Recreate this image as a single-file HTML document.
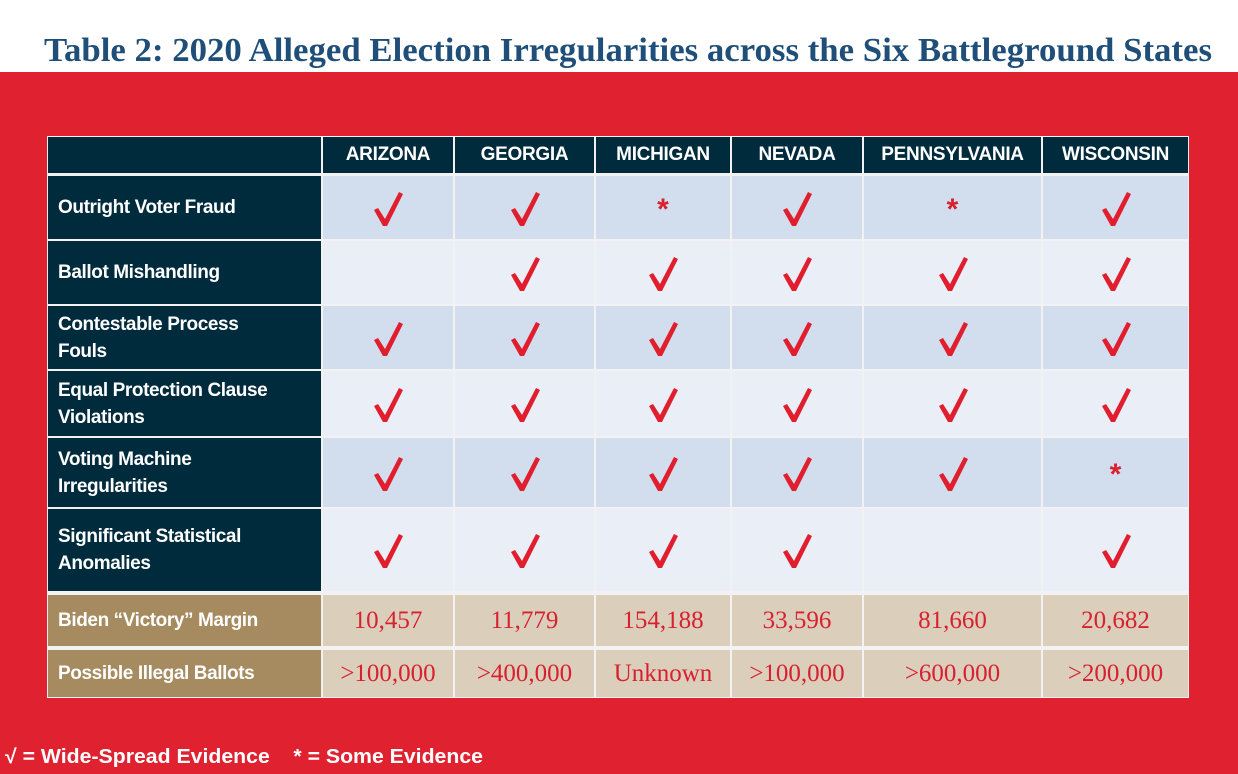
<!DOCTYPE html>
<html><head><meta charset="utf-8"><style>
*{margin:0;padding:0;box-sizing:border-box}
body{width:1238px;height:774px;background:#fff;position:relative;overflow:hidden;font-family:"Liberation Sans",sans-serif}
#red{position:absolute;left:0;top:72px;width:1238px;height:702px;background:#e02130}
#tbl{position:absolute;left:47px;top:136px;width:1142px;height:562px;background:#f2f2f2}
.c{position:absolute;display:flex;align-items:center}
.h{background:#002b3d;color:#fff;font-weight:bold;font-size:19px;justify-content:center;letter-spacing:-0.3px}
.l{background:#002b3d;color:#fff;font-weight:bold;font-size:19px;line-height:27px;padding-left:10px;letter-spacing:-0.4px}
.t{background:#a58b5f;color:#fff;font-weight:bold;font-size:19px;padding-left:10px;letter-spacing:-0.4px}
.n{background:#dbcfbc;color:#d8202f;font-family:"Liberation Serif",serif;font-size:25px;justify-content:center}
.a{background:#d2deed}.b{background:#e9eef7}
svg.k{position:absolute;width:30px;height:34px}
.s{position:absolute;color:#d8202f;font-weight:bold;font-size:30px;line-height:30px;width:30px;text-align:center}
</style></head><body>
<svg style="position:absolute;left:0;top:0" width="1238" height="72"><text x="44" y="61" textLength="1168" lengthAdjust="spacingAndGlyphs" font-family="Liberation Serif" font-weight="bold" font-size="34" fill="#1f4e79">Table 2: 2020 Alleged Election Irregularities across the Six Battleground States</text></svg>
<div id="red"></div>
<div id="tbl"></div>
<div class="c h" style="left:48px;top:137px;width:273px;height:36px"></div>
<div class="c h" style="left:323px;top:137px;width:130px;height:36px">ARIZONA</div>
<div class="c h" style="left:455px;top:137px;width:139px;height:36px">GEORGIA</div>
<div class="c h" style="left:596px;top:137px;width:134px;height:36px">MICHIGAN</div>
<div class="c h" style="left:732px;top:137px;width:130px;height:36px">NEVADA</div>
<div class="c h" style="left:864px;top:137px;width:177px;height:36px">PENNSYLVANIA</div>
<div class="c h" style="left:1043px;top:137px;width:145px;height:36px">WISCONSIN</div>
<div class="c l" style="left:48px;top:176px;width:273px;height:63px">Outright Voter Fraud</div>
<div class="c l" style="left:48px;top:241px;width:273px;height:63px">Ballot Mishandling</div>
<div class="c l" style="left:48px;top:306px;width:273px;height:63px">Contestable Process<br>Fouls</div>
<div class="c l" style="left:48px;top:371px;width:273px;height:65px">Equal Protection Clause<br>Violations</div>
<div class="c l" style="left:48px;top:438px;width:273px;height:69px">Voting Machine<br>Irregularities</div>
<div class="c l" style="left:48px;top:509px;width:273px;height:82px">Significant Statistical<br>Anomalies</div>
<div id="cells"></div>
<div class="c t" style="left:48px;top:595px;width:273px;height:51px">Biden “Victory” Margin</div>
<div class="c t" style="left:48px;top:650px;width:273px;height:47px">Possible Illegal Ballots</div>
<div class="c n" style="left:323px;top:595px;width:130px;height:51px">10,457</div>
<div class="c n" style="left:455px;top:595px;width:139px;height:51px">11,779</div>
<div class="c n" style="left:596px;top:595px;width:134px;height:51px">154,188</div>
<div class="c n" style="left:732px;top:595px;width:130px;height:51px">33,596</div>
<div class="c n" style="left:864px;top:595px;width:177px;height:51px">81,660</div>
<div class="c n" style="left:1043px;top:595px;width:145px;height:51px">20,682</div>
<div class="c n" style="left:323px;top:650px;width:130px;height:47px">&gt;100,000</div>
<div class="c n" style="left:455px;top:650px;width:139px;height:47px">&gt;400,000</div>
<div class="c n" style="left:596px;top:650px;width:134px;height:47px">Unknown</div>
<div class="c n" style="left:732px;top:650px;width:130px;height:47px">&gt;100,000</div>
<div class="c n" style="left:864px;top:650px;width:177px;height:47px">&gt;600,000</div>
<div class="c n" style="left:1043px;top:650px;width:145px;height:47px">&gt;200,000</div>
<svg style="position:absolute;left:0;top:735px" width="600" height="39"><text x="5" y="28" textLength="478" lengthAdjust="spacingAndGlyphs" font-family="Liberation Sans" font-weight="bold" font-size="20" fill="#fff" xml:space="preserve">√ = Wide-Spread Evidence    * = Some Evidence</text></svg>
<script>
var cols=[[323,130],[455,139],[596,134],[732,130],[864,177],[1043,145]];
var rows=[[176,63,'a'],[241,63,'b'],[306,63,'a'],[371,65,'b'],[438,69,'a'],[509,82,'b']];
var d=["VVsVsV"," VVVVV","VVVVVV","VVVVVV","VVVVVs","VVVV V"];
var h='';
for(var r=0;r<6;r++)for(var c=0;c<6;c++){
 var x=cols[c][0],w=cols[c][1],y=rows[r][0],hh=rows[r][1];
 h+='<div class="c '+rows[r][2]+'" style="left:'+x+'px;top:'+y+'px;width:'+w+'px;height:'+hh+'px"></div>';
 var cx=x+w/2,cy=y+hh/2+1,m=d[r][c];
 if(m=='V')h+='<svg class="k" viewBox="0 0 30 34" style="left:'+(cx-15)+'px;top:'+(cy-17)+'px"><polygon points="1,18 5,16 12,27 26,0 30,2 14,34 10,34" fill="#e01e2d"/></svg>';
 else if(m=='s')h+='<div class="s" style="left:'+(cx-15)+'px;top:'+(cy-14)+'px">*</div>';
}
document.getElementById('cells').innerHTML=h;
</script>
</body></html>
